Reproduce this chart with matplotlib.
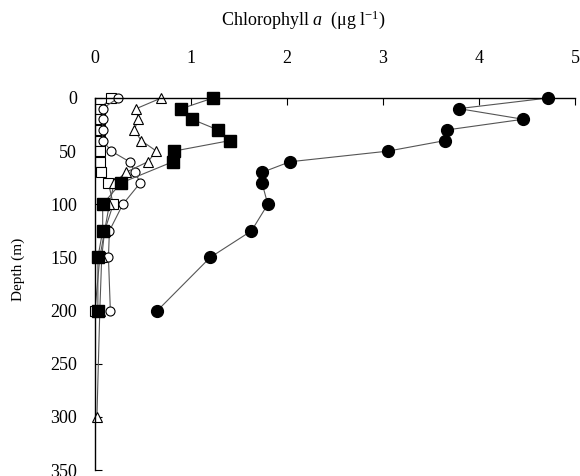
import matplotlib
matplotlib.use("Agg")
import matplotlib.pyplot as plt

plt.rcParams["font.family"] = ["Liberation Serif", "DejaVu Serif"]
plt.rcParams["mathtext.fontset"] = "custom"
plt.rcParams["mathtext.rm"] = "Liberation Serif"
plt.rcParams["mathtext.it"] = "Liberation Serif:italic"

# depth profiles of chlorophyll a at five stations
depth_a = [0, 10, 20, 30, 40, 50, 60, 70, 80, 100, 125, 150, 200]
chl_a = [4.72, 3.79, 4.46, 3.67, 3.65, 3.05, 2.03, 1.74, 1.74, 1.80, 1.63, 1.20, 0.65]

depth_b = [0, 10, 20, 30, 40, 50, 60, 80, 100, 125, 150, 200]
chl_b = [1.23, 0.90, 1.01, 1.28, 1.41, 0.82, 0.81, 0.27, 0.08, 0.08, 0.03, 0.03]

depth_c = [0, 10, 20, 30, 40, 50, 60, 70, 80, 100, 125, 150, 200, 300]
chl_c = [0.69, 0.43, 0.45, 0.41, 0.48, 0.64, 0.55, 0.32, 0.20, 0.15, 0.10, 0.07, 0.05, 0.02]

depth_d = [0, 10, 20, 30, 40, 50, 60, 70, 80, 100, 125, 150, 200]
chl_d = [0.24, 0.08, 0.08, 0.08, 0.08, 0.17, 0.36, 0.42, 0.47, 0.29, 0.15, 0.14, 0.16]

depth_e = [0, 10, 20, 30, 40, 50, 60, 70, 80, 100, 125, 150, 200]
chl_e = [0.17, 0.05, 0.05, 0.05, 0.05, 0.05, 0.05, 0.06, 0.14, 0.19, 0.10, 0.05, 0.0]

fig = plt.figure(figsize=(5.8, 4.76), dpi=100)
ax = fig.add_axes([95 / 580, 1 - 470 / 476, 480 / 580, 372 / 476])

line_kw = dict(color="#555555", lw=0.8, clip_on=False)
open_kw = dict(ms=6.5, mfc="white", mec="black", mew=0.8)
ax.plot(chl_e, depth_e, marker="s", **open_kw, **line_kw)
ax.plot(chl_d, depth_d, marker="o", **open_kw, **line_kw)
ax.plot(chl_c, depth_c, marker="^", **open_kw, **line_kw)
ax.plot(chl_b, depth_b, marker="s", ms=8, mfc="black", mec="black", **line_kw)
ax.plot(chl_a, depth_a, marker="o", ms=8.5, mfc="black", mec="black", **line_kw)

ax.set_xlim(0, 5)
ax.set_ylim(350, 0)
ax.set_xticks(range(0, 6))
ax.set_yticks(range(0, 351, 50))
ax.xaxis.tick_top()
ax.spines["right"].set_visible(False)
ax.spines["bottom"].set_visible(False)
for s in ("left", "top"):
    ax.spines[s].set_linewidth(1.0)
ax.tick_params(axis="x", direction="in", length=5, pad=22, labelsize=13)
ax.tick_params(axis="y", direction="in", length=5, pad=13, labelsize=13)

fig.text(303 / 580, 1 - 20 / 476, r"Chlorophyll $\mathit{a}$  ($\mathrm{\mu}$g l$^{-1}$)",
         ha="center", va="center", fontsize=13)
fig.text(18 / 580, 1 - 269 / 476, "Depth (m)", rotation=90,
         ha="center", va="center", fontsize=11)

fig.savefig("out.png", dpi=100)
